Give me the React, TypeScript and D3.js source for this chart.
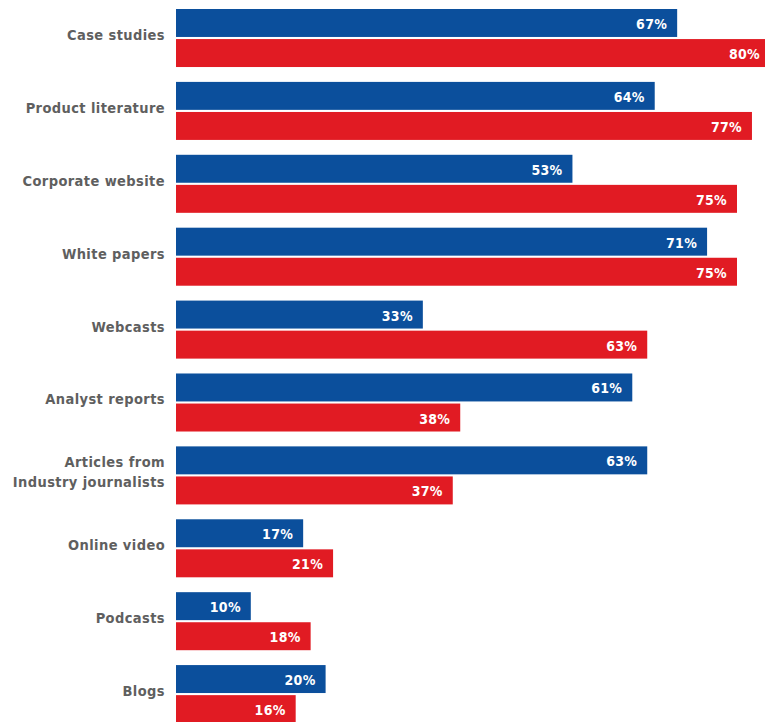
import React from "react";
import * as d3 from "d3";

const categories: string[][] = [
  ["Case studies"],
  ["Product literature"],
  ["Corporate website"],
  ["White papers"],
  ["Webcasts"],
  ["Analyst reports"],
  ["Articles from", "Industry journalists"],
  ["Online video"],
  ["Podcasts"],
  ["Blogs"],
];
const blueValues = [67, 64, 53, 71, 33, 61, 63, 17, 10, 20];
const redValues = [80, 77, 75, 75, 63, 38, 37, 21, 18, 16];
const seriesKeys = ["blue", "red"];

const W = 765;
const H = 722;
const BLUE = "#0b4f9c";
const RED = "#e11b23";
const FONT = "'Liberation Sans Narrow', 'DejaVu Sans Condensed', 'Arial Narrow', sans-serif";

export default function App() {
  const idx = categories.map((_, i) => String(i));
  const y = d3
    .scaleBand<string>()
    .domain(idx)
    .range([9, 723.1])
    .paddingInner(0.204)
    .paddingOuter(0);
  const ySub = d3
    .scaleBand<string>()
    .domain(seriesKeys)
    .range([0, y.bandwidth()])
    .paddingInner(0.07);
  const x = d3.scaleLinear().domain([0, 100]).range([176, 924]);

  return (
    <svg
      width={W}
      height={H}
      style={{ position: "absolute", left: 0, top: 0, overflow: "hidden", background: "#fff" }}
    >
      <rect x={0} y={0} width={W} height={H} fill="#fff" />
      {categories.map((lines, i) => {
        const gy = y(String(i))!;
        const mid = gy + y.bandwidth() / 2 - 3;
        const lh = 20;
        return (
          <g key={i}>
            {lines.map((ln, j) => (
              <text
                key={j}
                x={165}
                y={mid + (j - (lines.length - 1) / 2) * lh}
                textAnchor="end"
                dominantBaseline="central"
                fontFamily={FONT}
                fontWeight="bold"
                fontSize={14.5}
                letterSpacing={0.4}
                fill="#5f5f5f"
              >
                {ln}
              </text>
            ))}
            {seriesKeys.map((k) => {
              const v = k === "blue" ? blueValues[i] : redValues[i];
              const by = gy + ySub(k)!;
              const bh = ySub.bandwidth();
              return (
                <g key={k}>
                  <rect
                    x={x(0)}
                    y={by}
                    width={x(v) - x(0)}
                    height={bh}
                    fill={k === "blue" ? BLUE : RED}
                  />
                  <text
                    x={Math.min(x(v), W + 5) - 10}
                    y={by + bh / 2 + 1}
                    textAnchor="end"
                    dominantBaseline="central"
                    fontFamily={FONT}
                    fontWeight="bold"
                    fontSize={14}
                    letterSpacing={0.3}
                    fill="#fff"
                  >
                    {v}%
                  </text>
                </g>
              );
            })}
          </g>
        );
      })}
    </svg>
  );
}
